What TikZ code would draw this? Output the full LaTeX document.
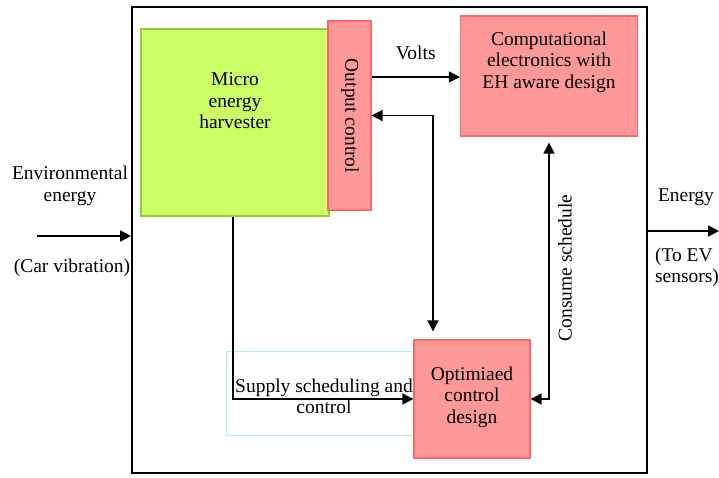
\documentclass[tikz,border=0pt]{standalone}
\usepackage{fontspec}
\setmainfont{Liberation Serif}
\newfontfamily\tnr{Liberation Serif}
\usetikzlibrary{arrows.meta,calc}
\definecolor{harvfill}{HTML}{CCFF66}
\definecolor{harvline}{HTML}{99CC33}
\definecolor{pinkfill}{HTML}{FF9999}
\definecolor{pinkline}{HTML}{FF6666}
\definecolor{cyanline}{HTML}{99FFDD}
\tikzset{
  txt/.style={font=\tnr\fontsize{19.5}{21.5}\selectfont, align=center, inner sep=0pt},
  pinkbox/.style={draw=pinkline, fill=pinkfill, line width=1.2pt, inner sep=0pt},
  harvbox/.style={draw=harvline, fill=harvfill, line width=1.2pt, inner sep=0pt},
  arr/.style={line width=1.7pt, -{Triangle[length=11pt,width=11pt]}},
  dblarr/.style={line width=1.7pt, {Triangle[length=11pt,width=11pt]}-{Triangle[length=11pt,width=11pt]}},
}
\begin{document}
\begin{tikzpicture}[x=1pt,y=-1pt]
\useasboundingbox (0,0) rectangle (719,477);
% outer frame
\node[draw, line width=1.7pt, minimum width=515pt, minimum height=466pt, inner sep=0pt] (frame) at (389.5,240) {};
% cyan box
\node[draw=cyanline, line width=1pt, minimum width=187pt, minimum height=84pt, inner sep=0pt] (cyan) at (319.5,393) {};
% harvester
\node[harvbox, minimum width=188pt, minimum height=187pt] (harv) at (235,122.5) {};
\node[txt] (harvlbl) at (235,101) {Micro\\energy\\harvester};
% output control
\node[pinkbox, minimum width=43pt, minimum height=189pt] (oc) at (349.5,115.5) {};
\node[txt, rotate=-90] (oclbl) at (350,116) {Output control};
% computational
\node[pinkbox, minimum width=177pt, minimum height=120pt] (comp) at (549,76) {};
\node[txt] (complbl) at (549,62) {Computational\\electronics with\\EH aware design};
% optimised control
\node[pinkbox, minimum width=116pt, minimum height=118pt] (opt) at (472,399) {};
\node[txt] (optlbl) at (472,397) {Optimiaed\\control\\design};
% connectors
\coordinate (voltstart) at ([yshift=38.5pt]oc.east);
\draw[arr] (voltstart) -- (comp.west |- voltstart) node[midway, above=16pt, txt] (volts) {Volts};
\draw[dblarr] (oc.east) -| ([xshift=-39pt,yshift=8pt]opt.north);
\draw[arr] ([xshift=-2pt]harv.south) |- (opt.west);
\draw[dblarr] ([yshift=-6pt]comp.south) |- (opt.east);
\node[txt, rotate=90] (conslbl) at (565,268) {Consume schedule};
\node[txt] (supplbl) at (324,396.5) {Supply scheduling and\\control};
% environmental input
\coordinate (envstart) at (37,236);
\draw[arr] (envstart) -- (frame.west |- envstart);
\node[txt] (envlbl) at (70,186) {Environmental\\energy};
\node[txt] (carlbl) at (72,268) {(Car vibration)};
% energy output
\coordinate (outend) at (719,231);
\draw[arr] (frame.east |- outend) -- (outend);
\node[txt] (energylbl) at (686,197) {Energy};
\node[txt, align=left] (evlbl) at (687,267.5) {(To EV\\sensors)};
\end{tikzpicture}
\end{document}
